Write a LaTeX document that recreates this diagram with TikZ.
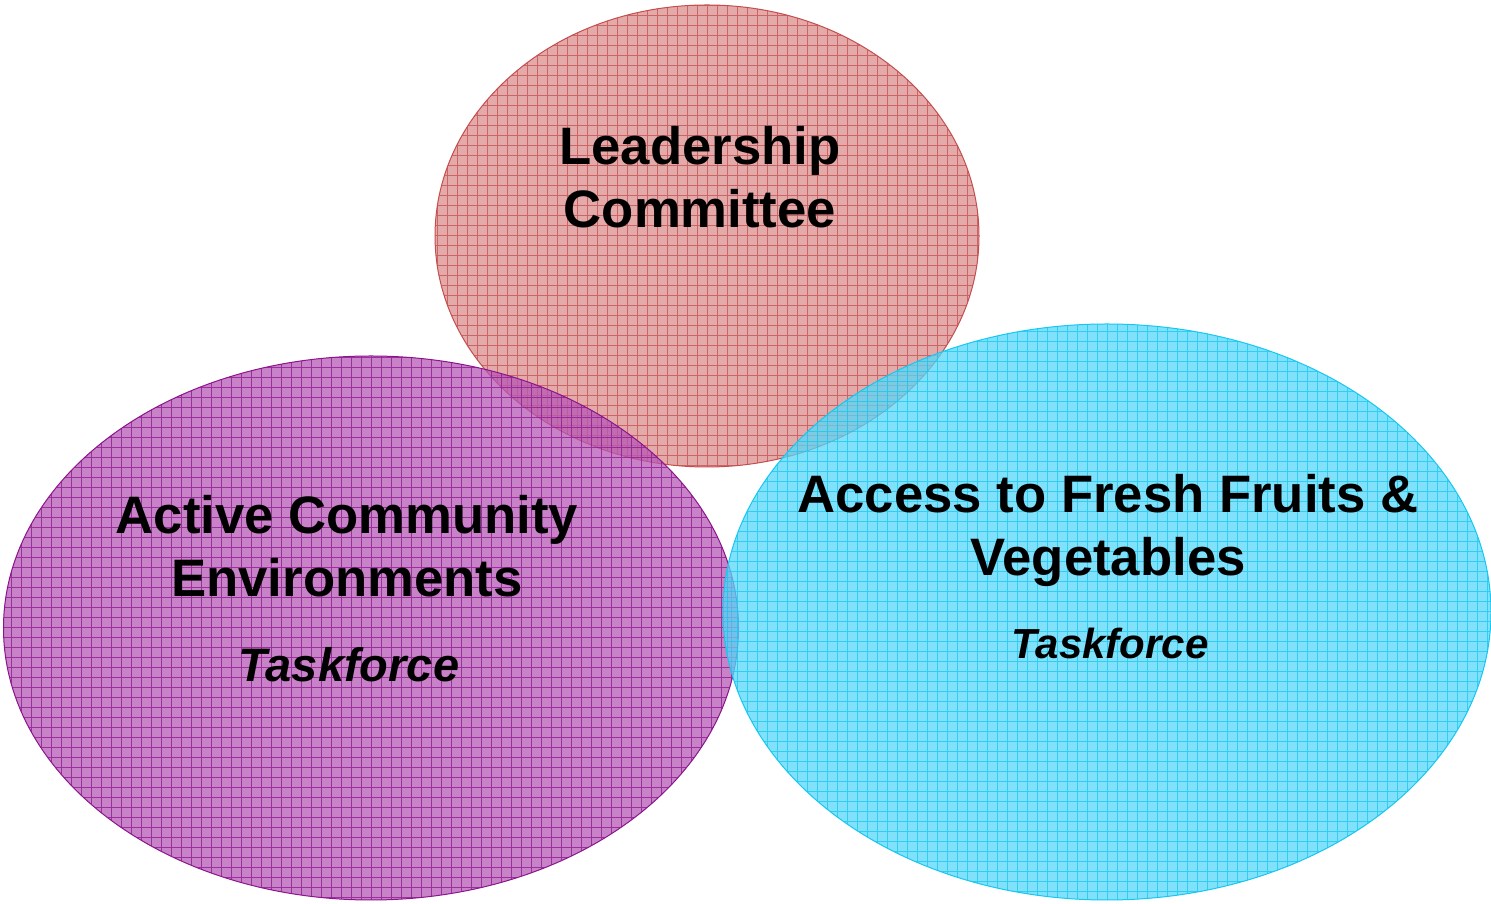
\documentclass[tikz,border=0pt]{standalone}
\usepackage{fontspec}
\setmainfont{Liberation Sans}
\usetikzlibrary{shapes.geometric}

\definecolor{leadfill}{RGB}{219,142,142}
\definecolor{leadline}{RGB}{196,78,78}
\definecolor{activefill}{RGB}{182,88,182}
\definecolor{activeline}{RGB}{140,20,140}
\definecolor{accessfill}{RGB}{88,215,248}
\definecolor{accessline}{RGB}{20,200,240}

\begin{document}
\begin{tikzpicture}
    [
        x = 1pt, y = 1pt,
        group/.style = {ellipse, inner sep = 0pt, draw = #1line, line width = 1pt,
            fill = #1fill, fill opacity = 0.75,
            path picture = {\draw[#1line, draw opacity = 0.75, line width = 1pt, step = 10pt]
                (path picture bounding box.south west) grid (path picture bounding box.north east);}},
        title/.style = {align = center, font = \fontsize{52.7}{63}\selectfont\bfseries, text opacity = 1},
        sub/.style = {font = \fontsize{#1}{56}\selectfont\bfseries\itshape}
    ]

        \useasboundingbox (0,0) rectangle (1491,904);

        % the three groups
        \node[group = lead, minimum width = 544pt, minimum height = 462pt] (lead) at (707,668) {};
        \node[group = active, minimum width = 735pt, minimum height = 544pt] (active) at (371,276) {};
        \node[group = access, minimum width = 768pt, minimum height = 576pt] (access) at (1107,292) {};

        % labels
        \node[title] (leadtext) at (700,727) {Leadership\\Committee};
        \node[title] (activetext) at (347,358) {Active Community\\Environments};
        \node[sub = 47] (activesub) at (349,239) {Taskforce};
        \node[title] (accesstext) at (1108,374) {Access to Fresh Fruits \&\\Vegetables};
        \node[sub = 42] (accesssub) at (1110,261) {Taskforce};
    \end{tikzpicture}
\end{document}
